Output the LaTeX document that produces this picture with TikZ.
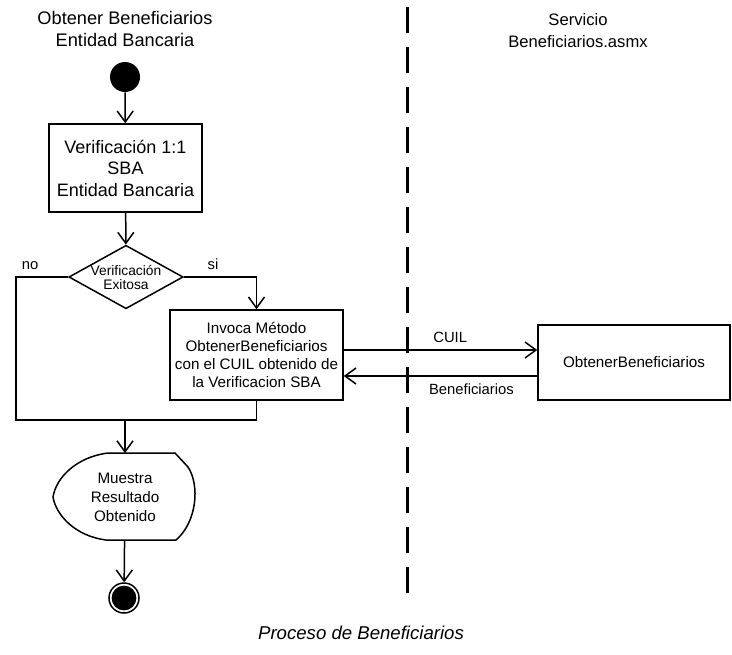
\documentclass[tikz,border=0pt]{standalone}
\usepackage{fontspec}
\setmainfont{Liberation Sans}
\usetikzlibrary{arrows.meta}
\usetikzlibrary{shapes.geometric}

\begin{document}
\begin{tikzpicture}[x=0.5pt,y=-0.5pt,
    caja/.style={draw, line width=0.75pt, align=center, inner sep=0pt},
    rombo/.style={draw, diamond, aspect=1.8, inner sep=0pt, line width=0.75pt, align=center, font=\fontsize{6.9}{7}\selectfont},
    flecha/.style={-{Straight Barb[length=5.5pt,width=8pt]}, line width=0.75pt},
    linea/.style={line width=0.75pt},
    etiqueta/.style={font=\fontsize{7.4}{9}\selectfont}]
          \useasboundingbox (0,0) rectangle (732,654);
          % titulos de los carriles
          \node[align=center, font=\fontsize{9.1}{11}\selectfont] (tituloEntidad) at (125,29) {Obtener Beneficiarios\\Entidad Bancaria};
          \node[align=center, font=\fontsize{8.3}{11}\selectfont] (tituloServicio) at (578,31) {Servicio\\Beneficiarios.asmx};
          % separador de carriles
          \coordinate (carrilArriba) at (407,0);
          \coordinate (carrilAbajo) at (407,593);
          \draw[line width=1.5pt, dash pattern=on 13pt off 7pt] (carrilAbajo) -- (carrilArriba);
          % inicio
          \node[circle, fill, minimum size=15pt, inner sep=0pt] (inicio) at (125,77) {};
          % Verificacion 1:1
          \node[caja, minimum width=76.5pt, minimum height=44pt, font=\fontsize{9}{10.75}\selectfont] (verificacion) at (125.5,168) {Verificación 1:1\\SBA\\Entidad Bancaria};
          % decision
          \node[rombo] (decision) at (126,277) {Verificación\\Exitosa};
          % Invoca Metodo
          \node[caja, minimum width=86.5pt, minimum height=45pt, font=\fontsize{7.6}{9}\selectfont] (invoca) at (256.5,355) {Invoca Método\\ObtenerBeneficiarios\\con el CUIL obtenido de\\la Verificacion SBA};
          % servicio
          \node[caja, minimum width=96pt, minimum height=37.5pt, font=\fontsize{7.6}{9}\selectfont] (obtener) at (634,362.5) {ObtenerBeneficiarios};
          % Muestra Resultado
          \node[align=center, minimum width=72pt, minimum height=43.5pt, inner sep=0pt, font=\fontsize{7.6}{9.5}\selectfont] (muestra) at (125,497) {Muestra\\Resultado\\Obtenido};
          \draw[linea] (108,453) -- (175,453) -- (188,467) .. controls (200,485) and (197,522) .. (176,540) -- (106,540) .. controls (75,536) and (56,515) .. (53,497) .. controls (56,478) and (76,457) .. (108,453);
          % fin
          \node[circle, draw, line width=0.75pt, minimum size=15pt, inner sep=0pt] (fin) at (124,598) {};
          \fill (fin.center) circle [radius=6.2pt];
          % linea entre inicio y verificacion
          \draw[flecha] (inicio) -- (verificacion);
          % linea entre verificacion y decision
          \draw[flecha] (verificacion) -- (decision);
          % rama no
          \coordinate (esquinaNo) at (16,277);
          \coordinate (union) at (125,420);
          \draw[linea] (decision.west) -- node[etiqueta, pos=0.73, above] {no} (esquinaNo) |- (union) -| (invoca.south);
          % rama si
          \draw[flecha] (decision.east) -| node[etiqueta, pos=0.2, above] {si} (invoca.north);
          % linea entre union y muestra
          \draw[flecha] (union) -- (muestra);
          % linea entre muestra y fin
          \draw[flecha] (muestra) -- (fin);
          % CUIL
          \coordinate (cuilIni) at ([yshift=2.5pt]invoca.east);
          \draw[flecha] (cuilIni) -- (cuilIni -| obtener.west) node[etiqueta, pos=0.55, above] {CUIL};
          % Beneficiarios
          \coordinate (benefFin) at ([yshift=-10.5pt]invoca.east);
          \draw[flecha] (benefFin -| obtener.west) -- (benefFin) node[etiqueta, pos=0.34, below] {Beneficiarios};
          % leyenda
          \node[font=\itshape\fontsize{9.3}{11}\selectfont] (leyenda) at (361,633) {Proceso de Beneficiarios};
        \end{tikzpicture}
\end{document}
